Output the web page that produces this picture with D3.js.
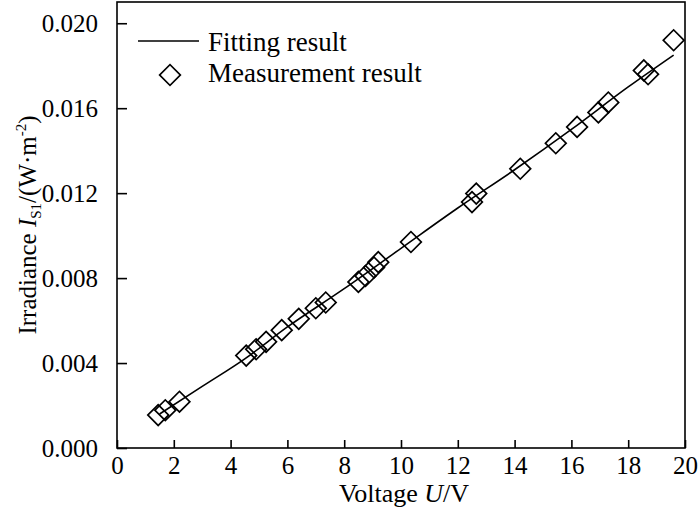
<!DOCTYPE html>
<html><head><meta charset="utf-8">
<script src="https://cdn.jsdelivr.net/npm/d3@7"></script>
<style>
html,body{margin:0;padding:0;background:#fff;}
svg text{font-family:"Liberation Serif","Times New Roman",serif !important;fill:#000;}
</style></head>
<body><svg id="c" width="700" height="509"></svg>
<script>
// Measurement data
const voltage = [1.45, 1.7, 2.2, 4.55, 4.9, 5.25, 5.8, 6.4, 7.0, 7.35, 8.5, 8.75, 9.05, 9.2, 10.35, 12.5, 12.65, 14.2, 15.45, 16.2, 16.95, 17.3, 18.55, 18.7, 19.6];
const irradiance = [0.00155, 0.00178, 0.00218, 0.00435, 0.00465, 0.00500, 0.00555, 0.00608, 0.00658, 0.00685, 0.00782, 0.00810, 0.00850, 0.00875, 0.00970, 0.01158, 0.01198, 0.01315, 0.01435, 0.01512, 0.01580, 0.01627, 0.01778, 0.01760, 0.01920];
// Fitting curve
const fitVoltage = [1.5, 3, 4.5, 6, 8, 10, 12, 14, 16, 18, 19.6];
const fitIrradiance = [0.0016, 0.0029, 0.0042, 0.0057, 0.0075, 0.0094, 0.0113, 0.0131, 0.0150, 0.0170, 0.0185];
// Tick labels
const xTicks = [0, 2, 4, 6, 8, 10, 12, 14, 16, 18, 20];
const yTicks = [0, 0.004, 0.008, 0.012, 0.016, 0.020];

const svg = d3.select("#c");
const L = 117, R = 685, T = 2, B = 448;
const x = d3.scaleLinear().domain([0, 20]).range([L, R]);
const y = d3.scaleLinear().domain([0, 0.021]).range([B, T]);
const FS = 25;
const SERIF = '"Liberation Serif","Times New Roman",serif';

// frame
svg.append("rect").attr("x", L).attr("y", T).attr("width", R - L).attr("height", B - T)
  .attr("fill", "none").attr("stroke", "#000").attr("stroke-width", 1.6);

// x axis (ticks inward)
const xa = svg.append("g").attr("transform", `translate(0,${B})`)
  .call(d3.axisBottom(x).tickValues(xTicks).tickSizeInner(-8).tickSizeOuter(0).tickPadding(8.5).tickFormat(d3.format("d")));
xa.attr("font-family", SERIF);
xa.select(".domain").remove();
xa.selectAll("line").attr("stroke", "#000").attr("stroke-width", 1.6);
xa.selectAll("text").attr("font-size", FS).style("font-family", SERIF).attr("fill", "#000");

// y axis
const ya = svg.append("g").attr("transform", `translate(${L},0)`)
  .call(d3.axisLeft(y).tickValues(yTicks).tickSizeInner(-10).tickSizeOuter(0).tickPadding(19).tickFormat(d3.format(".3f")));
ya.attr("font-family", SERIF);
ya.select(".domain").remove();
ya.selectAll("line").attr("stroke", "#000").attr("stroke-width", 1.6);
ya.selectAll("text").attr("font-size", FS).style("font-family", SERIF).attr("fill", "#000");

// fit line
const fitData = fitVoltage.map((v, i) => [v, fitIrradiance[i]]);
svg.append("path").datum(fitData)
  .attr("d", d3.line().x(d => x(d[0])).y(d => y(d[1])).curve(d3.curveMonotoneX))
  .attr("fill", "none").attr("stroke", "#000").attr("stroke-width", 1.6);

// diamonds
const sym = d3.symbol().type(d3.symbolSquare).size(215);
svg.append("g").selectAll("path").data(voltage.map((v, i) => [v, irradiance[i]]))
  .join("path")
  .attr("d", sym)
  .attr("transform", d => `translate(${x(d[0])},${y(d[1])}) rotate(45)`)
  .attr("fill", "none").attr("stroke", "#000").attr("stroke-width", 1.7);

// legend
svg.append("line").attr("x1", 138).attr("x2", 199).attr("y1", 41).attr("y2", 41)
  .attr("stroke", "#000").attr("stroke-width", 1.6);
svg.append("text").attr("x", 208).attr("y", 51).attr("font-size", 27).text("Fitting result");
svg.append("path").attr("d", sym).attr("transform", "translate(170,75) rotate(45)")
  .attr("fill", "none").attr("stroke", "#000").attr("stroke-width", 1.7);
svg.append("text").attr("x", 208).attr("y", 82).attr("font-size", 27).text("Measurement result");

// x label
const xl = svg.append("text").attr("x", 404).attr("y", 502).attr("text-anchor", "middle").attr("font-size", 26);
xl.append("tspan").text("Voltage ");
xl.append("tspan").attr("font-style", "italic").text("U");
xl.append("tspan").text("/V");

// y label
const yl = svg.append("text").attr("transform", "translate(36,225) rotate(-90)")
  .attr("text-anchor", "middle").attr("font-size", FS);
yl.append("tspan").text("Irradiance ");
yl.append("tspan").attr("font-style", "italic").text("I");
yl.append("tspan").attr("font-size", 15).attr("dy", 5).text("S1");
yl.append("tspan").attr("dy", -5).text("/(W·m");
yl.append("tspan").attr("font-size", 15).attr("dy", -10).text("-2");
yl.append("tspan").attr("dy", 10).text(")");
</script></body></html>
